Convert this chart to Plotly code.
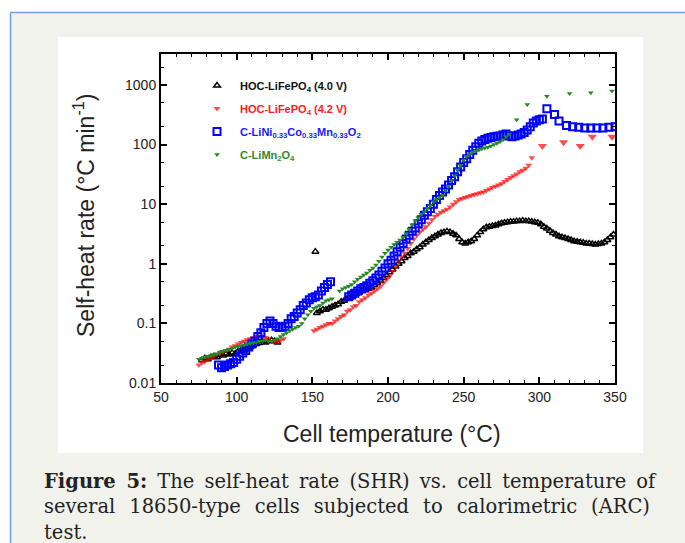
import plotly.graph_objects as go

# ---------------- data ----------------
black_T = [77, 79, 81, 83, 85, 87, 89, 91, 93, 95, 97, 99, 101, 103, 105, 107, 109, 111, 113, 115, 117, 119, 121, 123, 125, 127,
           152,
           153, 155, 157, 159, 161, 163, 165, 167, 169, 171, 173, 175, 177, 179, 181, 183, 185, 187, 189, 191, 193, 195, 197, 199,
           201, 203, 205, 207, 209, 211, 213, 215, 217, 219, 221, 223, 225, 227, 229, 231, 233, 235, 237, 239, 241, 243, 245, 247,
           249, 251, 253, 255, 257, 259, 261, 263, 265, 267, 269, 271, 273, 275, 277, 279, 281, 283, 285, 287, 289, 291, 293, 295,
           297, 299, 301, 303, 305, 307, 309, 311, 313, 315, 317, 319, 321, 323, 325, 327, 329, 331, 333, 335, 337, 339, 341, 343,
           345, 347, 349]
black_R = [0.024, 0.026, 0.025, 0.027, 0.028, 0.027, 0.030, 0.029, 0.031, 0.030, 0.032, 0.031, 0.034, 0.036, 0.035, 0.038, 0.040,
           0.043, 0.045, 0.047, 0.050, 0.048, 0.050, 0.052, 0.050, 0.048,
           1.6,
           0.15, 0.16, 0.17, 0.17, 0.18, 0.19, 0.20, 0.21, 0.23, 0.24, 0.26, 0.27, 0.29, 0.31, 0.33, 0.35, 0.36, 0.38, 0.40, 0.44,
           0.48, 0.52, 0.58, 0.64, 0.72, 0.80, 0.90, 1.0, 1.1, 1.25, 1.35, 1.5, 1.6, 1.75, 1.9, 2.1, 2.3, 2.5, 2.7, 2.9, 3.1, 3.3,
           3.4, 3.5, 3.4, 3.2, 3.0, 2.6, 2.3, 2.2, 2.3, 2.4, 2.6, 3.0, 3.4, 3.8, 4.1, 4.2, 4.3, 4.4, 4.6, 4.8, 4.9, 5.0, 5.1, 5.1,
           5.2, 5.2, 5.3, 5.2, 5.2, 5.1, 5.0, 4.9, 4.6, 4.2, 3.9, 3.6, 3.3, 3.1, 2.9, 2.8, 2.7, 2.6, 2.5, 2.4, 2.35, 2.3, 2.25, 2.2,
           2.2, 2.15, 2.1, 2.15, 2.2, 2.3, 2.5, 2.8, 3.1]

red_T = [75, 77, 79, 81, 83, 85, 87, 89, 91, 93, 95, 97, 99, 101, 103, 105, 107, 109, 111, 113, 115, 117, 119, 121, 123, 125, 127,
         129, 131,
         151, 153, 155, 157, 159, 161, 163, 165, 167, 169, 171, 173, 175, 177, 179, 181, 183, 185, 187, 189, 191, 193, 195, 197,
         199, 201, 203, 205, 207, 209, 211, 213, 215, 217, 219, 221, 223, 225, 227, 229, 231, 233, 235, 237, 239, 241, 243, 245,
         247, 249, 251, 253, 255, 257, 259, 261, 263, 265, 267, 269, 271, 273, 275, 277, 279, 281, 283, 285, 287, 289, 291, 293,
         295,
         302, 316, 327, 335, 348]
red_R = [0.020, 0.022, 0.023, 0.025, 0.026, 0.028, 0.030, 0.032, 0.033, 0.035, 0.037, 0.040, 0.042, 0.045, 0.048, 0.050, 0.053,
         0.055, 0.058, 0.060, 0.062, 0.060, 0.058, 0.055, 0.050, 0.048, 0.050, 0.052, 0.055,
         0.075, 0.080, 0.085, 0.090, 0.095, 0.10, 0.10, 0.11, 0.12, 0.13, 0.14, 0.16, 0.17, 0.19, 0.20, 0.23, 0.25, 0.27, 0.30,
         0.32, 0.35, 0.38, 0.42, 0.48, 0.55, 0.62, 0.75, 0.90, 1.1, 1.3, 1.5, 1.8, 2.2, 2.6, 3.0, 3.4, 3.8, 4.2, 4.8, 5.5, 6.2,
         6.8, 7.3, 7.8, 8.2, 9.0, 10, 11, 12, 12.5, 13, 13.5, 14, 14.5, 15, 15.5, 16, 17, 18, 19, 20, 21, 22, 24, 26, 28, 30, 32,
         35, 37, 40, 45, 60,
         95, 110, 95, 135, 135]

blue_T = [88, 90, 92, 94, 96, 98, 100, 102, 104, 106, 108, 110, 112, 114, 116, 118, 120, 122, 124, 126, 128, 130, 132, 134, 136,
          138, 140, 142, 144, 146, 148, 150, 152, 154, 156, 158, 160, 162,
          174, 176, 178, 180, 182, 184, 186, 188, 190, 192, 194, 196, 198, 200, 202, 204, 206, 208, 210, 212, 214, 216, 218, 220,
          222, 224, 226, 228, 230, 232, 234, 236, 238, 240, 242, 244, 246, 248, 250, 252, 254, 256, 258, 260, 262, 264, 266, 268,
          270, 272, 274, 276, 278, 280, 282, 284, 286, 288, 290, 292, 294, 296, 298, 300, 302, 305, 310, 313, 318, 322, 326, 330,
          334, 338, 342, 346, 350]
blue_R = [0.020, 0.018, 0.019, 0.020, 0.021, 0.022, 0.025, 0.028, 0.032, 0.035, 0.040, 0.045, 0.050, 0.060, 0.070, 0.085, 0.10,
          0.11, 0.10, 0.090, 0.085, 0.085, 0.090, 0.10, 0.12, 0.13, 0.15, 0.17, 0.20, 0.22, 0.25, 0.27, 0.28, 0.30, 0.35, 0.40,
          0.45, 0.50,
          0.28, 0.30, 0.32, 0.35, 0.38, 0.40, 0.43, 0.47, 0.52, 0.58, 0.65, 0.75, 0.85, 1.0, 1.15, 1.35, 1.6, 1.9, 2.2, 2.6, 3.0,
          3.5, 4.0, 4.7, 5.5, 6.5, 7.5, 8.5, 10, 12, 14, 16, 18, 21, 25, 29, 35, 42, 50, 58, 68, 80, 92, 105, 115, 122, 128, 132,
          135, 138, 140, 145, 150, 140, 135, 140, 145, 150, 160, 175, 200, 230, 250, 260, 270, 400, 320, 250, 210, 200, 195, 190,
          190, 190, 190, 195, 200]

green_T = [75, 77, 79, 81, 83, 85, 87, 89, 91, 93, 95, 97, 99, 101, 103, 105, 107, 109, 111, 113, 115, 117, 119, 121, 123, 125,
           127, 129, 131, 133, 135, 137, 139, 141, 143, 145, 147, 149, 151, 153, 155, 157, 159, 161, 163,
           168, 170, 172, 174, 176, 178, 180, 182, 184, 186, 188, 190, 192, 194, 196, 198, 200, 202, 204, 206, 208, 210, 212, 214,
           216, 218, 220, 222, 224, 226, 228, 230, 232, 234, 236, 238, 240, 242, 244, 246, 248, 250, 252, 254, 256, 258, 260, 262,
           264, 266, 268, 270, 272, 274, 276, 278, 280,
           285, 292, 305, 320, 334, 348]
green_R = [0.025, 0.026, 0.027, 0.028, 0.029, 0.030, 0.031, 0.033, 0.034, 0.035, 0.037, 0.038, 0.040, 0.041, 0.042, 0.043, 0.045,
           0.046, 0.047, 0.048, 0.050, 0.050, 0.052, 0.050, 0.050, 0.052, 0.055, 0.060, 0.065, 0.070, 0.075, 0.080, 0.085, 0.090,
           0.10, 0.12, 0.14, 0.16, 0.18, 0.19, 0.20, 0.22, 0.24, 0.25, 0.26,
           0.35, 0.38, 0.40, 0.42, 0.45, 0.50, 0.55, 0.60, 0.65, 0.70, 0.78, 0.85, 0.95, 1.1, 1.3, 1.5, 1.7, 1.9, 2.1, 2.3, 2.5,
           2.8, 3.2, 3.8, 4.5, 5.3, 6.0, 6.8, 7.5, 8.5, 9.5, 11, 12, 13, 14, 17, 20, 25, 30, 38, 45, 55, 63, 70, 75, 78, 82, 85,
           88, 90, 95, 100, 105, 112, 120, 135, 150,
           260, 470, 650, 720, 740, 790]

series_names = [
    "<b><span style='color:#111111'>HOC-LiFePO<sub>4</sub> (4.0 V)</span></b>",
    "<b><span style='color:#ff1a1a'>HOC-LiFePO<sub>4</sub> (4.2 V)</span></b>",
    "<b><span style='color:#1a1aff'>C-LiNi<sub>0.33</sub>Co<sub>0.33</sub>Mn<sub>0.33</sub>O<sub>2</sub></span></b>",
    "<b><span style='color:#2e8b2e'>C-LiMn<sub>2</sub>O<sub>4</sub></span></b>",
]

x_ticks = [50, 100, 150, 200, 250, 300, 350]
y_ticks = [0.01, 0.1, 1, 10, 100, 1000]
y_tick_text = ["0.01", "0.1", "1", "10", "100", "1000"]

caption_lines = [
    "<b>Figure 5:</b> The self-heat rate (SHR) vs. cell temperature of",
    "several 18650-type cells subjected to calorimetric (ARC)",
    "test.",
]
caption_extra_space = ["\u2009", "\u2009\u2009", ""]   # emulate justified text

# ---------------- figure ----------------
W, H = 685, 543
L, R, T, B = 161, 70, 54, 160
pw, ph = W - L - R, H - T - B


def px(x):
    return (x - L) / pw


def py(y):
    return (H - B - y) / ph


fig = go.Figure()
fig.add_trace(go.Scatter(x=black_T, y=black_R, mode="markers", name=series_names[0], legendgroup="a",
                         marker=dict(symbol="triangle-up-open", size=6, color="#000000", line=dict(width=1.5, color="#000000"))))
red_sizes = [8 if t >= 300 else 6 for t in red_T]
fig.add_trace(go.Scatter(x=red_T, y=red_R, mode="markers", name=series_names[1], legendgroup="b",
                         marker=dict(symbol="triangle-down", size=red_sizes, color="#ff0000", line=dict(width=0))))
fig.add_trace(go.Scatter(x=blue_T, y=blue_R, mode="markers", name=series_names[2], legendgroup="c",
                         marker=dict(symbol="square-open", size=7, color="#0000ff", line=dict(width=2, color="#0000ff"))))
fig.add_trace(go.Scatter(x=green_T, y=green_R, mode="markers", name=series_names[3], legendgroup="d",
                         marker=dict(symbol="triangle-down", size=5, color="#228b22", line=dict(width=0))))

shapes = [
    dict(type="rect", xref="paper", yref="paper", x0=px(10), x1=px(W + 5), y0=py(H + 5), y1=py(12),
         fillcolor="#f2f2ed", line=dict(width=0), layer="below"),
    dict(type="line", xref="paper", yref="paper", x0=px(10.5), x1=px(W + 5), y0=py(12.5), y1=py(12.5),
         line=dict(color="#6fa0e0", width=1.5), layer="below"),
    dict(type="line", xref="paper", yref="paper", x0=px(10.5), x1=px(10.5), y0=py(H + 5), y1=py(12.5),
         line=dict(color="#6fa0e0", width=1.5), layer="below"),
    dict(type="rect", xref="paper", yref="paper", x0=px(58), x1=px(643), y0=py(453), y1=py(37),
         fillcolor="#ffffff", line=dict(width=0), layer="below"),
]

annotations = [
    dict(text="Self-heat rate (°C min<sup>-1</sup>)", xref="paper", yref="paper", x=px(84), y=py(216),
         xanchor="center", yanchor="middle",
         textangle=-90, showarrow=False, font=dict(family="Arial, Liberation Sans", size=23, color="#222222")),
    dict(text="Cell temperature (°C)", xref="paper", yref="paper", x=px(392), y=py(434),
         xanchor="center", yanchor="middle",
         showarrow=False, font=dict(family="Arial, Liberation Sans", size=23, color="#222222")),
]
for i, line in enumerate(caption_lines):
    text = line.replace(" ", " " + caption_extra_space[i]) if caption_extra_space[i] else line
    annotations.append(dict(text=text, xref="paper", yref="paper", x=px(42), y=py(481 + 25.5 * i),
                            xanchor="left", yanchor="middle", showarrow=False,
                            font=dict(family="DejaVu Serif", size=19.5, color="#222222")))

fig.update_layout(
    width=W, height=H,
    margin=dict(l=L, r=R, t=T, b=B, pad=0),
    paper_bgcolor="#ffffff", plot_bgcolor="#ffffff",
    shapes=shapes, annotations=annotations,
    showlegend=True,
    legend=dict(x=px(194), y=py(71), xanchor="left", yanchor="top", bgcolor="rgba(0,0,0,0)",
                font=dict(family="Arial, Liberation Sans", size=11, color="#111111"),
                traceorder="grouped", tracegroupgap=4, itemwidth=36),
    xaxis=dict(range=[50, 350], tickvals=x_ticks, ticks="inside", ticklen=6, tickwidth=1.5, tickcolor="#000",
               showline=True, linecolor="#000", linewidth=2, mirror="allticks", showgrid=False, zeroline=False,
               minor=dict(dtick=10, ticks="inside", ticklen=3, tickwidth=1, tickcolor="#000"),
               tickfont=dict(family="Arial, Liberation Sans", size=14, color="#222222")),
    yaxis=dict(type="log", range=[-2, 3.52], tickvals=y_ticks, ticktext=y_tick_text, ticks="inside", ticklen=6,
               tickwidth=1.5, tickcolor="#000", showline=True, linecolor="#000", linewidth=2, mirror="allticks",
               showgrid=False, zeroline=False,
               minor=dict(ticks="inside", ticklen=3, tickwidth=1, tickcolor="#000"),
               tickfont=dict(family="Arial, Liberation Sans", size=14, color="#222222")),
)

fig.write_html("out.html")
